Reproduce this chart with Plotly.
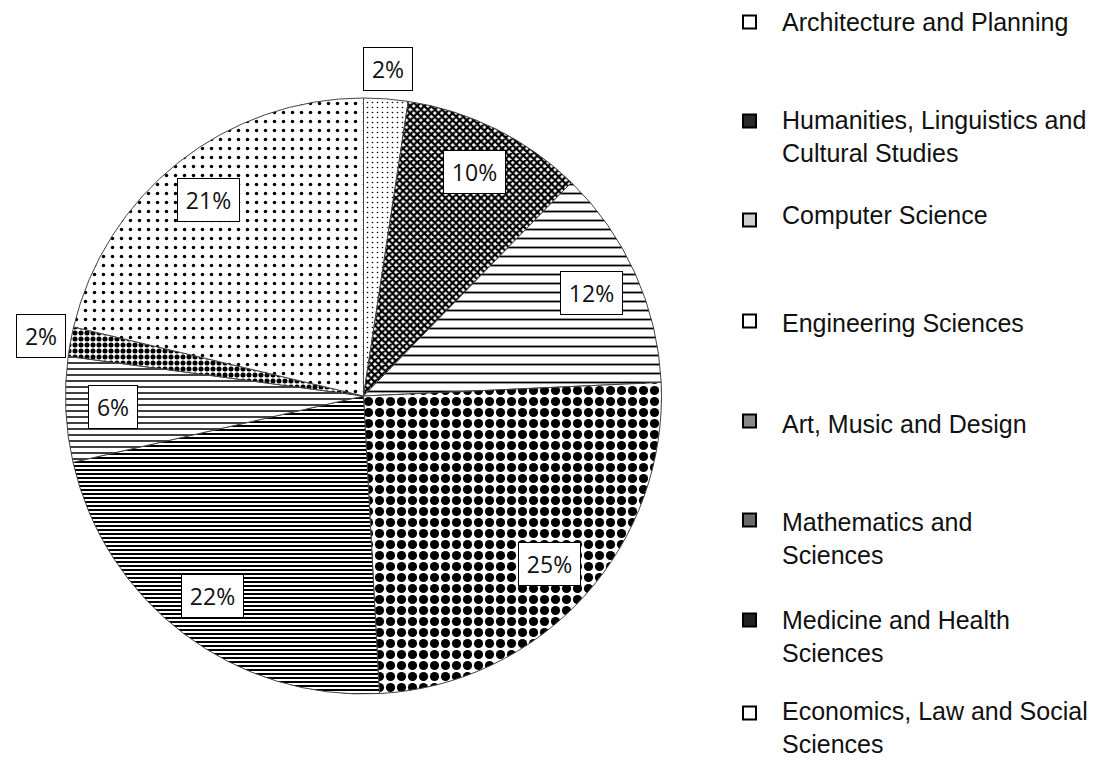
import math
import plotly.graph_objects as go

# ---- data ----
categories = [
    "Architecture and Planning",
    "Humanities, Linguistics and Cultural Studies",
    "Computer Science",
    "Engineering Sciences",
    "Art, Music and Design",
    "Mathematics and Sciences",
    "Medicine and Health Sciences",
    "Economics, Law and Social Sciences",
]
legend_lines = [
    ["Architecture and Planning"],
    ["Humanities, Linguistics and", "Cultural Studies"],
    ["Computer Science"],
    ["Engineering Sciences"],
    ["Art, Music and Design"],
    ["Mathematics and", "Sciences"],
    ["Medicine and Health", "Sciences"],
    ["Economics, Law and Social", "Sciences"],
]
values = [2.4, 9.9, 12.0, 24.9, 22.3, 5.7, 1.6, 21.3]

# ---- styling ----
W, H = 1114, 760
CX, CY, R = 363.5, 396.0, 298.0

pattern_shapes = [".", "x", "-", ".", "-", "-", ".", "."]
pattern_sizes = [5, 5, 9, 11, 4, 6, 6, 9]
pattern_solid = [0.08, 0.7, 0.2, 0.55, 0.5, 0.25, 0.55, 0.12]
legend_fill = ["white", "#2a2a2a", "#cfcfcf", "white", "#8a8a8a", "#6a6a6a", "#222222", "white"]

fig = go.Figure()
fig.add_trace(go.Pie(
    labels=categories,
    values=values,
    sort=False,
    direction="clockwise",
    rotation=0,
    textinfo="none",
    hoverinfo="label+percent",
    showlegend=False,
    domain=dict(x=[(CX - R) / W, (CX + R) / W], y=[(H - CY - R) / H, (H - CY + R) / H]),
    marker=dict(
        colors=["white"] * len(values),
        line=dict(color="#444444", width=1),
        pattern=dict(
            shape=pattern_shapes,
            size=pattern_sizes,
            solidity=pattern_solid,
            fgcolor="black",
            bgcolor="white",
            fillmode="replace",
        ),
    ),
))

# percentage labels in boxes
total = sum(values)
cum = 0.0
annotations = []
for v in values:
    mid = cum + v / 2
    cum += v
    theta = 2 * math.pi * mid / total
    frac = v / total
    r = R * (1.10 if frac < 0.03 else 0.84)
    px = CX + r * math.sin(theta)
    py = CY - r * math.cos(theta)
    txt = f"{round(frac * 100)}%"
    annotations.append(dict(
        x=px / W, y=1 - py / H, xref="paper", yref="paper",
        text=txt, showarrow=False, xanchor="center", yanchor="middle",
        font=dict(family="Open Sans", size=23, color="#111111"),
        bgcolor="white", bordercolor="black", borderwidth=1, borderpad=5,
        width=13 * (len(txt) - 1) + 25,
    ))

# custom legend
first_line_y = [22, 120, 215, 323, 424, 522, 620, 711]
symbol_y = [22, 121, 220, 321, 421, 520, 620, 713]
LINE_H = 25 * 1.3
shapes = []
for i, lines in enumerate(legend_lines):
    n = len(lines)
    yc = first_line_y[i] + (n - 1) * LINE_H / 2
    annotations.append(dict(
        x=781 / W, y=1 - yc / H, xref="paper", yref="paper",
        text="<br>".join(lines), showarrow=False, xanchor="left", yanchor="middle",
        align="left", font=dict(family="Liberation Sans", size=25, color="#111111"),
        borderpad=0,
    ))
    sy = symbol_y[i]
    shapes.append(dict(
        type="rect", xref="paper", yref="paper",
        x0=743 / W, x1=756 / W, y0=1 - (sy + 6.5) / H, y1=1 - (sy - 6.5) / H,
        line=dict(color="black", width=2), fillcolor=legend_fill[i],
    ))

fig.update_layout(
    width=W, height=H,
    margin=dict(l=0, r=0, t=0, b=0),
    paper_bgcolor="white",
    plot_bgcolor="white",
    annotations=annotations,
    shapes=shapes,
)

fig.write_html(
    "out.html",
    config={"displayModeBar": False},
    post_script="document.body.style.margin='0';document.body.style.overflow='hidden';",
)
